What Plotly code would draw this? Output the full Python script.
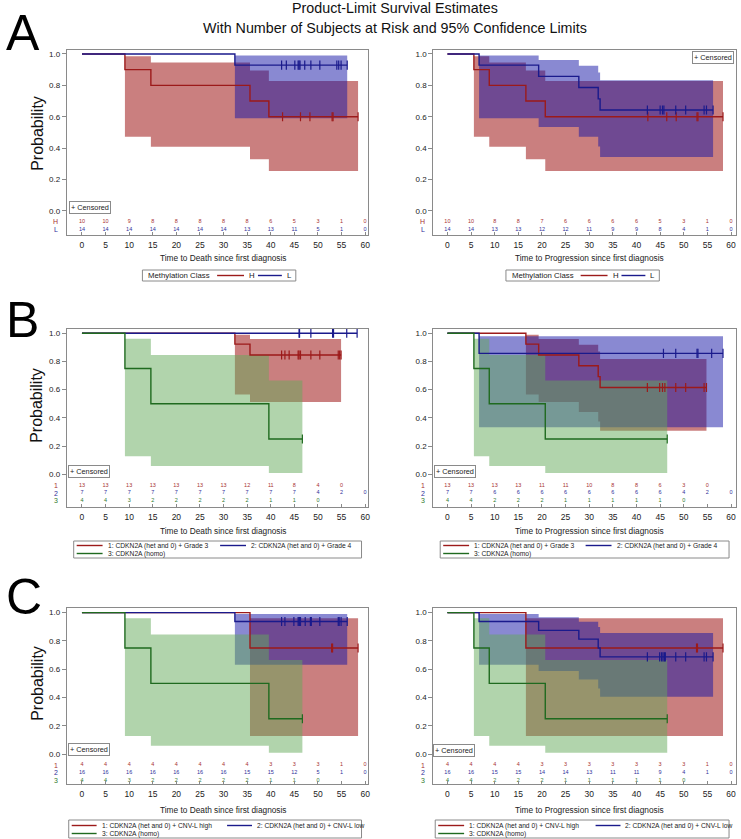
import plotly.graph_objects as go

W, H = 741, 839

# ------------------------------------------------------------------ data
time_ticks = [0, 5, 10, 15, 20, 25, 30, 35, 40, 45, 50, 55, 60]
prob_ticks = [0.0, 0.2, 0.4, 0.6, 0.8, 1.0]

# ---- Panel A, overall survival (Methylation class H / L)
A_os_H_t = [0, 9.1, 14.6, 35.6, 39.6]
A_os_H_s = [1.0, 0.9, 0.8, 0.7, 0.6]
A_os_H_lo = [1.0, 0.473, 0.409, 0.329, 0.255]
A_os_H_hi = [1.0, 0.985, 0.946, 0.894, 0.827]
A_os_H_cens = [42.5, 46.3, 48.3, 53.0, 53.2, 58.5]
A_os_H_risk = [10, 10, 9, 8, 8, 8, 8, 8, 6, 5, 3, 1, 0]

A_os_L_t = [0, 32.4]
A_os_L_s = [1.0, 0.929]
A_os_L_lo = [1.0, 0.591]
A_os_L_hi = [1.0, 0.990]
A_os_L_cens = [42.3, 43.3, 45.1, 45.8, 46.0, 46.2, 47.2, 48.5, 50.4, 54.0, 54.4, 54.9, 56.2]
A_os_L_risk = [14, 14, 14, 14, 14, 14, 14, 13, 13, 11, 5, 1, 0]

# ---- Panel A, progression
A_pf_H_t = [0, 5.6, 8.85, 16.6, 20.7]
A_pf_H_s = [1.0, 0.9, 0.8, 0.7, 0.6]
A_pf_H_lo = [1.0, 0.473, 0.409, 0.329, 0.255]
A_pf_H_hi = [1.0, 0.985, 0.946, 0.894, 0.827]
A_pf_H_cens = [42.4, 46.4, 48.4, 52.8, 53.0, 58.3]
A_pf_H_risk = [10, 10, 8, 8, 7, 6, 6, 6, 6, 5, 3, 1, 0]

A_pf_L_t = [0, 6.7, 19.3, 27.8, 31.9, 32.3]
A_pf_L_s = [1.0, 0.929, 0.857, 0.786, 0.714, 0.643]
A_pf_L_lo = [1.0, 0.591, 0.534, 0.472, 0.410, 0.343]
A_pf_L_hi = [1.0, 0.990, 0.962, 0.925, 0.882, 0.833]
A_pf_L_cens = [42.3, 45.0, 45.5, 45.8, 48.3, 50.4, 54.3, 54.8, 56.2]
A_pf_L_risk = [14, 14, 13, 13, 12, 12, 11, 9, 9, 8, 4, 1, 0]

# ---- Panel B, overall survival (CDKN2A + grade)
B_os_1_t = [0, 32.4, 35.6]
B_os_1_s = [1.0, 0.923, 0.846]
B_os_1_lo = [1.0, 0.566, 0.512]
B_os_1_hi = [1.0, 0.989, 0.959]
B_os_1_cens = [42.3, 43.0, 43.9, 45.8, 46.0, 46.3, 48.5, 50.4, 54.3, 54.6, 54.9]
B_os_1_risk = [13, 13, 13, 13, 13, 13, 13, 12, 11, 8, 4, 0]

B_os_2_t = [0]
B_os_2_s = [1.0]
B_os_2_lo = [1.0]
B_os_2_hi = [1.0]
B_os_2_cens = [46.0, 46.1, 48.5, 53.1, 53.3, 56.1, 58.3]
B_os_2_risk = [7, 7, 7, 7, 7, 7, 7, 7, 7, 7, 4, 2, 0]

B_os_3_t = [0, 9.1, 14.6, 39.6]
B_os_3_s = [1.0, 0.75, 0.5, 0.25]
B_os_3_lo = [1.0, 0.128, 0.058, 0.009]
B_os_3_hi = [1.0, 0.961, 0.845, 0.665]
B_os_3_cens = [46.7]
B_os_3_risk = [4, 4, 3, 2, 2, 2, 2, 2, 1, 1, 0]

# ---- Panel B, progression
B_pf_1_t = [0, 16.6, 19.3, 27.8, 31.9, 32.3]
B_pf_1_s = [1.0, 0.923, 0.846, 0.769, 0.692, 0.615]
B_pf_1_lo = [1.0, 0.566, 0.512, 0.442, 0.375, 0.308]
B_pf_1_hi = [1.0, 0.989, 0.959, 0.918, 0.870, 0.818]
B_pf_1_cens = [42.3, 44.9, 45.5, 46.0, 48.3, 50.4, 54.3, 54.8]
B_pf_1_risk = [13, 13, 13, 13, 11, 11, 10, 8, 8, 6, 3, 0]

B_pf_2_t = [0, 6.7]
B_pf_2_s = [1.0, 0.857]
B_pf_2_lo = [1.0, 0.334]
B_pf_2_hi = [1.0, 0.979]
B_pf_2_cens = [45.7, 48.3, 52.8, 53.0, 55.9, 58.3]
B_pf_2_risk = [7, 7, 6, 6, 6, 6, 6, 6, 6, 6, 4, 2, 0]

B_pf_3_t = [0, 5.6, 8.85, 20.7]
B_pf_3_s = [1.0, 0.75, 0.5, 0.25]
B_pf_3_lo = [1.0, 0.128, 0.058, 0.009]
B_pf_3_hi = [1.0, 0.961, 0.845, 0.665]
B_pf_3_cens = [46.5]
B_pf_3_risk = [4, 4, 2, 2, 2, 1, 1, 1, 1, 1, 0]

# ---- Panel C, overall survival (CDKN2A + CNV-L)
C_os_1_t = [0, 35.6]
C_os_1_s = [1.0, 0.75]
C_os_1_lo = [1.0, 0.128]
C_os_1_hi = [1.0, 0.961]
C_os_1_cens = [52.9, 53.1, 58.5]
C_os_1_risk = [4, 4, 4, 4, 4, 4, 4, 4, 3, 3, 3, 1, 0]

C_os_2_t = [0, 32.4]
C_os_2_s = [1.0, 0.9375]
C_os_2_lo = [1.0, 0.632]
C_os_2_hi = [1.0, 0.991]
C_os_2_cens = [42.3, 43.0, 44.9, 45.8, 46.0, 46.1, 46.3, 47.3, 48.4, 48.6, 50.4, 54.3, 54.5, 54.9, 56.2]
C_os_2_risk = [16, 16, 16, 16, 16, 16, 16, 15, 15, 12, 5, 1, 0]

C_os_3_t = [0, 9.1, 14.6, 39.6]
C_os_3_s = [1.0, 0.75, 0.5, 0.25]
C_os_3_lo = [1.0, 0.128, 0.058, 0.009]
C_os_3_hi = [1.0, 0.961, 0.845, 0.665]
C_os_3_cens = [46.7]
C_os_3_risk = [4, 4, 3, 2, 2, 2, 2, 2, 1, 1, 0]

# ---- Panel C, progression
C_pf_1_t = [0, 16.6]
C_pf_1_s = [1.0, 0.75]
C_pf_1_lo = [1.0, 0.128]
C_pf_1_hi = [1.0, 0.961]
C_pf_1_cens = [52.7, 52.9, 58.3]
C_pf_1_risk = [4, 4, 4, 4, 3, 3, 3, 3, 3, 3, 3, 1, 0]

C_pf_2_t = [0, 6.7, 19.3, 27.8, 31.9, 32.3]
C_pf_2_s = [1.0, 0.9375, 0.875, 0.8125, 0.75, 0.6875]
C_pf_2_lo = [1.0, 0.632, 0.587, 0.527, 0.464, 0.405]
C_pf_2_hi = [1.0, 0.991, 0.967, 0.935, 0.898, 0.857]
C_pf_2_cens = [42.3, 44.9, 45.3, 45.6, 45.9, 46.1, 48.3, 50.4, 54.3, 54.8, 56.2]
C_pf_2_risk = [16, 16, 15, 15, 14, 14, 13, 11, 11, 9, 4, 1, 0]

C_pf_3_t = [0, 5.6, 8.85, 20.7]
C_pf_3_s = [1.0, 0.75, 0.5, 0.25]
C_pf_3_lo = [1.0, 0.128, 0.058, 0.009]
C_pf_3_hi = [1.0, 0.961, 0.845, 0.665]
C_pf_3_cens = [46.5]
C_pf_3_risk = [4, 4, 2, 2, 2, 1, 1, 1, 1, 1, 0]

# text
title_lines = ["Product-Limit Survival Estimates",
               "With Number of Subjects at Risk and 95% Confidence Limits"]
xtitle_os = "Time to Death since first diagnosis"
xtitle_pf = "Time to Progression since first diagnosis"
legend_A_title = "Methylation Class"
legend_A_labels = ["H", "L"]
legend_B_labels = ["1: CDKN2A (het and 0) + Grade 3", "2: CDKN2A (het and 0) + Grade 4", "3: CDKN2A (homo)"]
legend_C_labels = ["1: CDKN2A (het and 0) + CNV-L high", "2: CDKN2A (het and 0) + CNV-L low", "3: CDKN2A (homo)"]
row_labels_A = ["H", "L"]
row_labels_BC = ["1", "2", "3"]

# ------------------------------------------------------------------ style
FONT = "Liberation Sans, Arial, sans-serif"
LINE_C = ["#9c1a1a", "#1a1a8c", "#1f6a1f"]
FILL_C = ["rgba(150,0,0,0.5)", "rgba(20,20,165,0.5)", "rgba(100,170,90,0.5)"]
TEXT_C = ["#a83232", "#30309a", "#2f7a2f"]
FRAME = "#8a8a8a"


def px(x):
    return x / W


def py(y):
    return 1 - y / H


def ann(x, y, text, size, color="#222", xanchor="center", yanchor="middle", **kw):
    d = dict(xref="paper", yref="paper", x=px(x), y=py(y), text=text, showarrow=False,
             xanchor=xanchor, yanchor=yanchor, font=dict(size=size, color=color, family=FONT))
    d.update(kw)
    return d


def group(t, s, lo, hi, cens, risk):
    return dict(t=t, s=s, lo=lo, hi=hi, cens=cens, risk=risk)


panels = [
    dict(xdom=(67, 369), ydom=(50, 235), xr=(-3.23, 60.5), yr=(-0.153, 1.025),
         rows=[-0.068, -0.12], rowlab=row_labels_A, xtitle=xtitle_os, xt_y=258,
         cens_box=(90, 207),
         groups=[group(A_os_H_t, A_os_H_s, A_os_H_lo, A_os_H_hi, A_os_H_cens, A_os_H_risk),
                 group(A_os_L_t, A_os_L_s, A_os_L_lo, A_os_L_hi, A_os_L_cens, A_os_L_risk)]),
    dict(xdom=(435, 739), ydom=(50, 235), xr=(-3.0, 61.05), yr=(-0.153, 1.025),
         rows=[-0.068, -0.12], rowlab=row_labels_A, xtitle=xtitle_pf, xt_y=258,
         cens_box=(716, 57.5),
         groups=[group(A_pf_H_t, A_pf_H_s, A_pf_H_lo, A_pf_H_hi, A_pf_H_cens, A_pf_H_risk),
                 group(A_pf_L_t, A_pf_L_s, A_pf_L_lo, A_pf_L_hi, A_pf_L_cens, A_pf_L_risk)]),
    dict(xdom=(67, 369), ydom=(329, 507), xr=(-3.23, 60.5), yr=(-0.232, 1.03),
         rows=[-0.08, -0.133, -0.186], rowlab=row_labels_BC, xtitle=xtitle_os, xt_y=531,
         cens_box=(89, 471),
         groups=[group(B_os_1_t, B_os_1_s, B_os_1_lo, B_os_1_hi, B_os_1_cens, B_os_1_risk),
                 group(B_os_2_t, B_os_2_s, B_os_2_lo, B_os_2_hi, B_os_2_cens, B_os_2_risk),
                 group(B_os_3_t, B_os_3_s, B_os_3_lo, B_os_3_hi, B_os_3_cens, B_os_3_risk)]),
    dict(xdom=(435, 739), ydom=(329, 507), xr=(-3.0, 61.05), yr=(-0.232, 1.03),
         rows=[-0.08, -0.133, -0.186], rowlab=row_labels_BC, xtitle=xtitle_pf, xt_y=531,
         cens_box=(457, 471),
         groups=[group(B_pf_1_t, B_pf_1_s, B_pf_1_lo, B_pf_1_hi, B_pf_1_cens, B_pf_1_risk),
                 group(B_pf_2_t, B_pf_2_s, B_pf_2_lo, B_pf_2_hi, B_pf_2_cens, B_pf_2_risk),
                 group(B_pf_3_t, B_pf_3_s, B_pf_3_lo, B_pf_3_hi, B_pf_3_cens, B_pf_3_risk)]),
    dict(xdom=(67, 369), ydom=(608, 784), xr=(-3.23, 60.5), yr=(-0.212, 1.033),
         rows=[-0.078, -0.134, -0.188], rowlab=row_labels_BC, xtitle=xtitle_os, xt_y=810,
         cens_box=(89.5, 749.5),
         groups=[group(C_os_1_t, C_os_1_s, C_os_1_lo, C_os_1_hi, C_os_1_cens, C_os_1_risk),
                 group(C_os_2_t, C_os_2_s, C_os_2_lo, C_os_2_hi, C_os_2_cens, C_os_2_risk),
                 group(C_os_3_t, C_os_3_s, C_os_3_lo, C_os_3_hi, C_os_3_cens, C_os_3_risk)]),
    dict(xdom=(435, 739), ydom=(608, 784), xr=(-3.0, 61.05), yr=(-0.212, 1.033),
         rows=[-0.078, -0.134, -0.188], rowlab=row_labels_BC, xtitle=xtitle_pf, xt_y=810,
         cens_box=(456, 750),
         groups=[group(C_pf_1_t, C_pf_1_s, C_pf_1_lo, C_pf_1_hi, C_pf_1_cens, C_pf_1_risk),
                 group(C_pf_2_t, C_pf_2_s, C_pf_2_lo, C_pf_2_hi, C_pf_2_cens, C_pf_2_risk),
                 group(C_pf_3_t, C_pf_3_s, C_pf_3_lo, C_pf_3_hi, C_pf_3_cens, C_pf_3_risk)]),
]


def end_time(g):
    return max(g["t"][-1], max(g["cens"]) if g["cens"] else 0)


def surv_at(g, x):
    val = g["s"][0]
    for ti, si in zip(g["t"], g["s"]):
        if ti <= x:
            val = si
    return val


fig = go.Figure()
annotations = []
shapes = []

for k, p in enumerate(panels):
    sfx = "" if k == 0 else str(k + 1)
    xa, ya = "x" + sfx, "y" + sfx
    # confidence bands
    for gi, g in enumerate(p["groups"]):
        if len(g["t"]) < 2:
            continue
        te = end_time(g)
        starts = g["t"][1:]
        ends = g["t"][2:] + [te]
        bx, by = [], []
        for j in range(len(starts)):
            bx += [starts[j], ends[j]]
            by += [g["hi"][j + 1], g["hi"][j + 1]]
        for j in reversed(range(len(starts))):
            bx += [ends[j], starts[j]]
            by += [g["lo"][j + 1], g["lo"][j + 1]]
        fig.add_trace(go.Scatter(x=bx, y=by, fill="toself", fillcolor=FILL_C[gi],
                                 line=dict(width=0), mode="lines", hoverinfo="skip",
                                 showlegend=False, xaxis=xa, yaxis=ya))
    # survival curves
    for gi, g in enumerate(p["groups"]):
        te = end_time(g)
        fig.add_trace(go.Scatter(x=g["t"] + [te], y=g["s"] + [g["s"][-1]], mode="lines",
                                 line=dict(color=LINE_C[gi], width=1.4, shape="hv"),
                                 showlegend=False, hoverinfo="skip", xaxis=xa, yaxis=ya))
    # censored marks
    for gi, g in enumerate(p["groups"]):
        fig.add_trace(go.Scatter(x=g["cens"], y=[surv_at(g, c) for c in g["cens"]],
                                 mode="markers",
                                 marker=dict(symbol="line-ns", size=6.5,
                                             line=dict(color=LINE_C[gi], width=1.2)),
                                 showlegend=False, hoverinfo="skip", xaxis=xa, yaxis=ya))
    # number at risk
    for gi, g in enumerate(p["groups"]):
        fig.add_trace(go.Scatter(x=time_ticks[:len(g["risk"])], y=[p["rows"][gi]] * len(g["risk"]),
                                 mode="text", text=[str(v) for v in g["risk"]],
                                 textfont=dict(size=5.5, color=TEXT_C[gi], family=FONT),
                                 cliponaxis=False, showlegend=False, hoverinfo="skip",
                                 xaxis=xa, yaxis=ya))
        annotations.append(dict(xref=xa + " domain", yref=ya, x=-0.022, y=p["rows"][gi],
                                text=p["rowlab"][gi], showarrow=False, xanchor="right",
                                yanchor="middle",
                                font=dict(size=7, color=TEXT_C[gi], family=FONT)))

    fig.layout["xaxis" + sfx] = dict(
        domain=[px(p["xdom"][0]), px(p["xdom"][1])], range=list(p["xr"]), anchor=ya,
        tickvals=time_ticks, ticks="inside", ticklen=3, tickcolor=FRAME,
        showline=True, mirror=True, linecolor=FRAME, linewidth=1,
        showgrid=False, zeroline=False, tickfont=dict(size=8.5, color="#222"),
        ticklabelstandoff=2)
    fig.layout["yaxis" + sfx] = dict(
        domain=[py(p["ydom"][1]), py(p["ydom"][0])], range=list(p["yr"]), anchor=xa,
        tickvals=prob_ticks, ticktext=["%.1f" % v for v in prob_ticks],
        ticks="outside", ticklen=4, tickcolor=FRAME,
        showline=True, mirror=True, linecolor=FRAME, linewidth=1,
        showgrid=False, zeroline=False, tickfont=dict(size=8, color="#222"))

    # x-axis title
    annotations.append(dict(xref=xa, yref="paper", x=30, y=py(p["xt_y"]), text=p["xtitle"],
                            showarrow=False, xanchor="center", yanchor="middle",
                            font=dict(size=8.3, color="#222", family=FONT)))
    # censored key
    cx, cy = p["cens_box"]
    annotations.append(ann(cx, cy, "+ Censored", 7.3, bordercolor=FRAME, borderwidth=1,
                           borderpad=1, bgcolor="white"))

# titles
annotations.append(ann(396.5, 8, title_lines[0], 14.3, "#111"))
annotations.append(ann(396.5, 27.5, title_lines[1], 14.3, "#111"))

# panel letters
for letter, yc in [("A", 33), ("B", 320), ("C", 597)]:
    annotations.append(ann(4, yc, letter, 50, "#000", xanchor="left"))

# y-axis titles
for yc in [133, 405, 683]:
    annotations.append(ann(37, yc, "Probability", 16, "#111", textangle=-90))

# legends (A)
for bx in [143, 508]:
    shapes.append(dict(type="rect", xref="paper", yref="paper", x0=px(bx), x1=px(bx + 154),
                       y0=py(281), y1=py(270), line=dict(color=FRAME, width=1)))
    annotations.append(ann(bx + 4, 275.5, legend_A_title, 7.8, xanchor="left"))
    for gi, (x0, x1) in enumerate([(75, 102), (116, 140)]):
        shapes.append(dict(type="line", xref="paper", yref="paper", x0=px(bx + x0), x1=px(bx + x1),
                           y0=py(275.5), y1=py(275.5), line=dict(color=LINE_C[gi], width=1.4)))
        annotations.append(ann(bx + x1 + 3, 275.5, legend_A_labels[gi], 7.8, xanchor="left"))

# legends (B, C)
legend_specs = [
    (74, 363, 541, 558, 545.5, 553.5, [(77, 103), (221, 247), (77, 103)], legend_B_labels),
    (442, 732, 541, 558, 545.5, 553.5, [(445, 471), (588, 614), (445, 471)], legend_B_labels),
    (69, 363, 820, 838, 825.5, 833.5, [(72, 97), (228, 253), (72, 97)], legend_C_labels),
    (437, 732, 820, 838, 825.5, 833.5, [(440, 466), (598, 623), (440, 466)], legend_C_labels),
]
for (bx0, bx1, by0, by1, r1, r2, sw, labels) in legend_specs:
    shapes.append(dict(type="rect", xref="paper", yref="paper", x0=px(bx0), x1=px(bx1),
                       y0=py(by1), y1=py(by0), line=dict(color=FRAME, width=1)))
    for gi in range(3):
        yy = r1 if gi < 2 else r2
        x0, x1 = sw[gi]
        shapes.append(dict(type="line", xref="paper", yref="paper", x0=px(x0), x1=px(x1),
                           y0=py(yy), y1=py(yy), line=dict(color=LINE_C[gi], width=1.4)))
        annotations.append(ann(x1 + 3, yy, labels[gi], 6.7, xanchor="left"))

fig.update_layout(width=W, height=H, margin=dict(l=0, r=0, t=0, b=0),
                  paper_bgcolor="white", plot_bgcolor="white",
                  font=dict(family=FONT, color="#222"),
                  annotations=annotations, shapes=shapes, showlegend=False)

fig.write_html("out.html", config={"displayModeBar": False},
               post_script="document.body.style.margin='0px';")
